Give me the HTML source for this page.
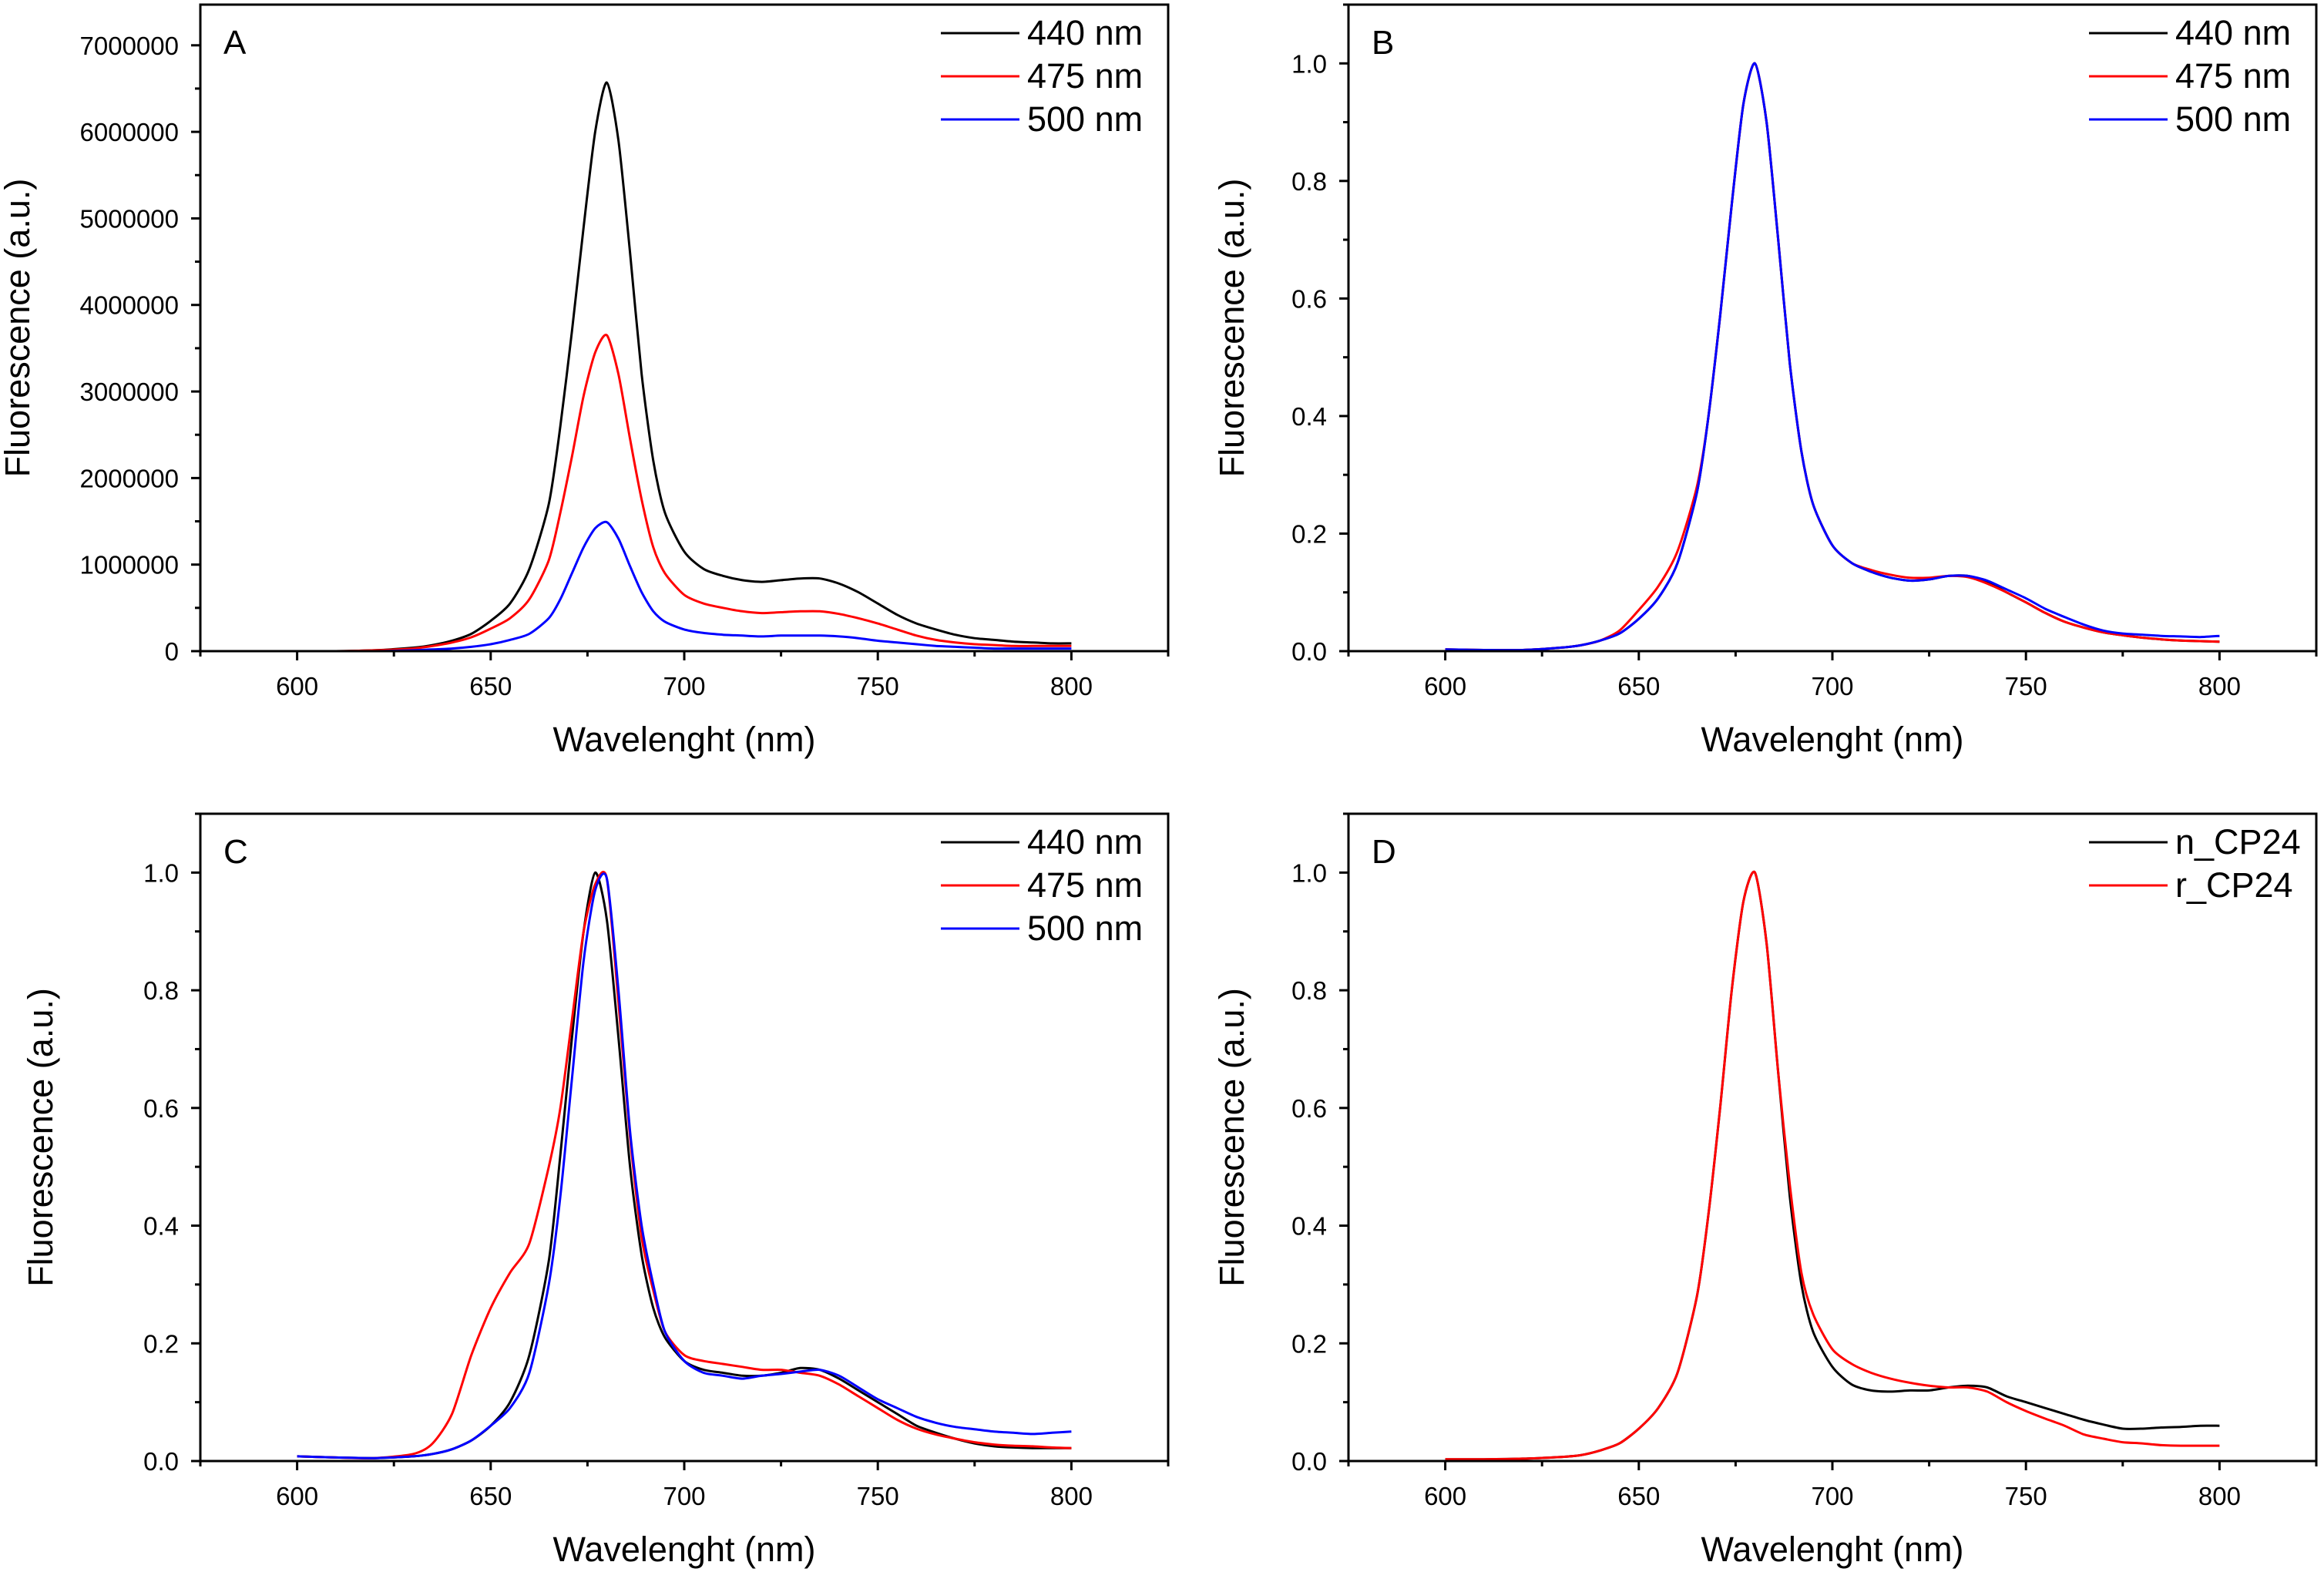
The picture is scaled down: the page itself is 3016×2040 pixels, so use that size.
<!DOCTYPE html>
<html><head><meta charset="utf-8"><style>
html,body{margin:0;padding:0;background:#fff;}
svg{display:block;font-family:"Liberation Sans",Arial,sans-serif;}
</style></head><body>
<svg id="fig" width="3016" height="2040" viewBox="0 0 3016 2040" xmlns="http://www.w3.org/2000/svg"></svg>
<script>
const wl=[600,610,620,630,635,640,645,650,655,660,665,668,671,674,677,680,683,686,689,692,695,700,705,710,715,720,725,730,735,740,745,750,755,760,765,770,775,780,785,790,795,800];
const a440=[0,0,0.01,0.04,0.07,0.12,0.2,0.35,0.55,0.95,1.7,2.6,3.7,4.9,6.0,6.57,5.9,4.6,3.2,2.2,1.6,1.15,0.95,0.87,0.82,0.8,0.82,0.84,0.84,0.78,0.68,0.55,0.42,0.32,0.25,0.19,0.15,0.13,0.11,0.1,0.09,0.09];
const a475=[0,0,0.01,0.03,0.06,0.1,0.16,0.26,0.38,0.6,1.05,1.6,2.25,2.95,3.45,3.65,3.2,2.45,1.75,1.2,0.9,0.65,0.55,0.5,0.46,0.44,0.45,0.46,0.46,0.43,0.38,0.32,0.25,0.18,0.13,0.1,0.08,0.07,0.06,0.06,0.06,0.06];
const a500=[0,0,0,0.01,0.02,0.03,0.05,0.08,0.13,0.2,0.38,0.6,0.9,1.2,1.42,1.49,1.3,0.98,0.68,0.46,0.34,0.25,0.21,0.19,0.18,0.17,0.18,0.18,0.18,0.17,0.15,0.12,0.1,0.08,0.06,0.05,0.04,0.03,0.03,0.03,0.03,0.03];
const b440=[0.003,0.002,0.002,0.006,0.01,0.018,0.03,0.055,0.09,0.15,0.27,0.4,0.57,0.76,0.93,1.0,0.9,0.7,0.49,0.34,0.25,0.18,0.15,0.135,0.125,0.12,0.122,0.128,0.128,0.118,0.1,0.083,0.065,0.05,0.04,0.032,0.027,0.023,0.02,0.018,0.017,0.016];
const b475=[0.003,0.002,0.002,0.006,0.01,0.018,0.035,0.07,0.11,0.17,0.28,0.4,0.57,0.76,0.93,1.0,0.9,0.7,0.49,0.34,0.25,0.18,0.15,0.138,0.13,0.125,0.125,0.128,0.126,0.115,0.1,0.083,0.065,0.05,0.04,0.032,0.027,0.023,0.02,0.018,0.017,0.016];
const b500=[0.003,0.002,0.002,0.006,0.01,0.018,0.03,0.055,0.09,0.15,0.27,0.4,0.57,0.76,0.93,1.0,0.9,0.7,0.49,0.34,0.25,0.18,0.15,0.135,0.125,0.12,0.122,0.128,0.128,0.12,0.105,0.09,0.072,0.058,0.045,0.035,0.03,0.028,0.026,0.025,0.024,0.026];
const c440=[0.008,0.006,0.005,0.008,0.012,0.02,0.035,0.06,0.1,0.18,0.34,0.52,0.72,0.9,1.0,0.92,0.72,0.5,0.35,0.26,0.21,0.17,0.155,0.15,0.145,0.145,0.15,0.158,0.155,0.14,0.12,0.1,0.08,0.06,0.048,0.038,0.03,0.025,0.023,0.022,0.022,0.022];
const c475=[0.008,0.006,0.005,0.012,0.03,0.08,0.18,0.26,0.32,0.37,0.5,0.6,0.75,0.9,0.98,0.99,0.78,0.55,0.38,0.29,0.22,0.18,0.17,0.165,0.16,0.155,0.155,0.15,0.145,0.13,0.11,0.09,0.07,0.055,0.045,0.038,0.032,0.028,0.026,0.025,0.023,0.022];
const c500=[0.008,0.006,0.005,0.008,0.012,0.02,0.035,0.06,0.09,0.15,0.3,0.45,0.65,0.85,0.97,0.99,0.8,0.56,0.4,0.3,0.22,0.17,0.15,0.145,0.14,0.145,0.148,0.152,0.155,0.145,0.125,0.105,0.09,0.075,0.065,0.058,0.054,0.05,0.048,0.046,0.048,0.05];
const dN=[0.003,0.003,0.004,0.007,0.01,0.018,0.03,0.055,0.09,0.15,0.28,0.42,0.6,0.8,0.95,1.0,0.88,0.66,0.45,0.3,0.22,0.16,0.13,0.12,0.118,0.12,0.12,0.125,0.128,0.125,0.11,0.1,0.09,0.08,0.07,0.062,0.055,0.055,0.057,0.058,0.06,0.06];
const dR=[0.003,0.003,0.004,0.007,0.01,0.018,0.03,0.055,0.09,0.15,0.28,0.42,0.6,0.8,0.95,1.0,0.88,0.66,0.47,0.32,0.25,0.19,0.165,0.15,0.14,0.133,0.128,0.125,0.125,0.118,0.1,0.085,0.072,0.06,0.045,0.038,0.032,0.03,0.027,0.026,0.026,0.026];
const xTicks=[600,650,700,750,800];
const yTicksA=[0,1,2,3,4,5,6,7];
const yLabelsA=["0","1000000","2000000","3000000","4000000","5000000","6000000","7000000"];
const yTicksN=[0,0.2,0.4,0.6,0.8,1.0];
const yLabelsN=["0.0","0.2","0.4","0.6","0.8","1.0"];
const legA=["440 nm","475 nm","500 nm"];
const legD=["n_CP24","r_CP24"];

const NS="http://www.w3.org/2000/svg";
const svg=document.getElementById('fig');
function mk(tag,attrs,parent){const e=document.createElementNS(NS,tag);for(const k in attrs)e.setAttribute(k,attrs[k]);(parent||svg).appendChild(e);return e;}

function panel(p){
  const g=mk('g',{});
  
  
  const X=v=>p.L+(v-575)/(825-575)*(p.R-p.L);
  const Y=v=>p.B-v/p.ymax*(p.B-p.T);
  p.series.forEach((s,si)=>{
    const pts=wl.map((w,i)=>[X(w),Y(s.v[i])]);
    let d='M'+pts[0][0].toFixed(1)+','+pts[0][1].toFixed(1);
    for(let i=0;i<pts.length-1;i++){
      const p0=pts[Math.max(i-1,0)],p1=pts[i],p2=pts[i+1],p3=pts[Math.min(i+2,pts.length-1)];
      const k=1/8;
      const c1=[p1[0]+(p2[0]-p0[0])*k,p1[1]+(p2[1]-p0[1])*k];
      const c2=[p2[0]-(p3[0]-p1[0])*k,p2[1]-(p3[1]-p1[1])*k];
      d+='C'+c1.map(v=>v.toFixed(1)).join(',')+' '+c2.map(v=>v.toFixed(1)).join(',')+' '+p2[0].toFixed(1)+','+p2[1].toFixed(1);
    }
    const path=mk('path',{d:d,fill:'none',stroke:s.c,'stroke-width':3,'stroke-linejoin':'round'},g);
    
    
  });
  const fr=mk('rect',{x:p.L,y:p.T,width:p.R-p.L,height:p.B-p.T,fill:'none',stroke:'#000','stroke-width':3},g);
  
  
  for(let w=575;w<=825;w+=25){
    const major=(w%50===0);
    mk('line',{x1:X(w),x2:X(w),y1:p.B,y2:p.B+(major?12:7),stroke:'#000','stroke-width':3},g);
  }
  xTicks.forEach(w=>{
    const t=mk('text',{x:X(w),y:p.B+57,'font-size':33,'text-anchor':'middle'},g);
    t.textContent=w;
    
    
  });
  const step=p.yt[1]-p.yt[0];
  for(let v=0;v<=p.ymax+1e-9;v+=step/2){
    const major=Math.abs(v/step-Math.round(v/step))<1e-6;
    mk('line',{x1:p.L,x2:p.L-(major?12:7),y1:Y(v),y2:Y(v),stroke:'#000','stroke-width':3},g);
  }
  p.yt.forEach((v,i)=>{
    const t=mk('text',{x:p.L-28,y:Y(v)+12,'font-size':33,'text-anchor':'end'},g);
    t.textContent=p.yl[i];
    
    
  });
  const xt=mk('text',{x:(p.L+p.R)/2,y:p.B+130,'font-size':45,'text-anchor':'middle'},g);
  xt.textContent='Wavelenght (nm)';
  
  
  const yt=mk('text',{x:0,y:0,'font-size':45,'text-anchor':'middle',transform:`translate(${p.ytx},${(p.T+p.B)/2}) rotate(-90)`},g);
  yt.textContent='Fluorescence (a.u.)';
  
  
  const lt=mk('text',{x:p.L+30,y:p.T+64,'font-size':44},g);
  lt.textContent=p.id;
  
  
  p.series.forEach((s,i)=>{
    const y=p.T+37+i*56;
    const lg=mk('g',{},g);
    
    
    mk('line',{x1:p.R-295,x2:p.R-193,y1:y,y2:y,stroke:s.c,'stroke-width':3},lg);
    const t=mk('text',{x:p.R-183,y:y+15,'font-size':45},lg);
    t.textContent=s.n;
  });
}
const T1=6,B1=845,T2=1056,B2=1896,L1=260,R1=1516,L2=1750,R2=3006;
panel({id:'A',L:L1,R:R1,T:T1,B:B1,ymax:7.47,yt:yTicksA,yl:yLabelsA,ytx:38,series:[{n:legA[0],c:'#000',v:a440},{n:legA[1],c:'#f00',v:a475},{n:legA[2],c:'#00f',v:a500}]});
panel({id:'B',L:L2,R:R2,T:T1,B:B1,ymax:1.1,yt:yTicksN,yl:yLabelsN,ytx:1614,series:[{n:legA[0],c:'#000',v:b440},{n:legA[1],c:'#f00',v:b475},{n:legA[2],c:'#00f',v:b500}]});
panel({id:'C',L:L1,R:R1,T:T2,B:B2,ymax:1.1,yt:yTicksN,yl:yLabelsN,ytx:68,series:[{n:legA[0],c:'#000',v:c440},{n:legA[1],c:'#f00',v:c475},{n:legA[2],c:'#00f',v:c500}]});
panel({id:'D',L:L2,R:R2,T:T2,B:B2,ymax:1.1,yt:yTicksN,yl:yLabelsN,ytx:1614,series:[{n:legD[0],c:'#000',v:dN},{n:legD[1],c:'#f00',v:dR}]});
</script>
</body></html>
